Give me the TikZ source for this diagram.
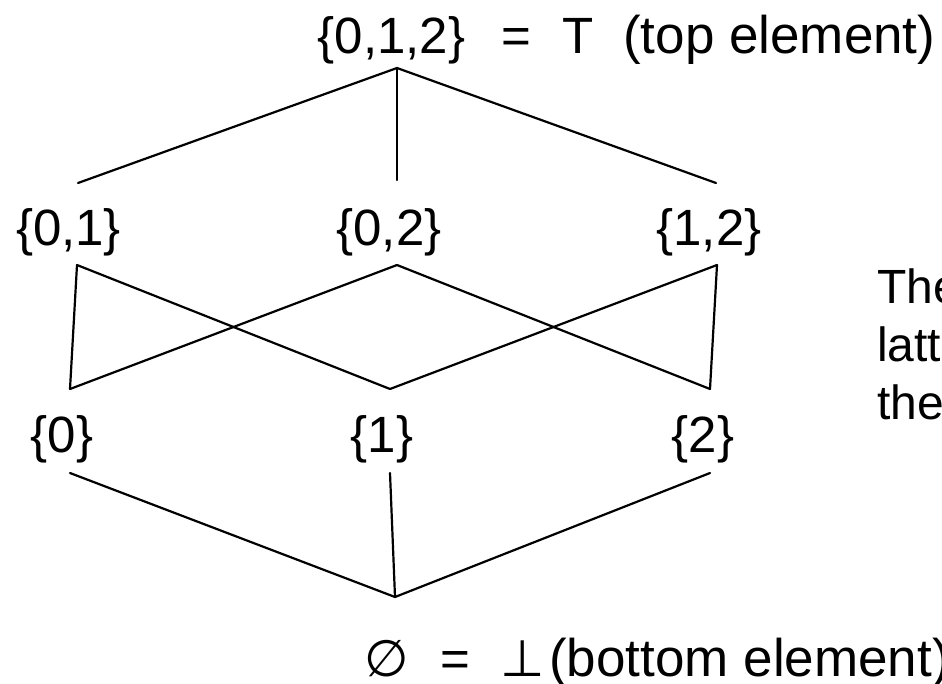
\documentclass[tikz,border=0pt]{standalone}
\usepackage{fontspec}
\setmainfont{Liberation Sans}
\newfontfamily\symf{DejaVu Sans}
\begin{document}
\begin{tikzpicture}[x=1pt,y=-1pt,
  lbl/.style={inner sep=0pt,anchor=base,font=\fontsize{51}{60}\selectfont},
  frag/.style={inner sep=0pt,anchor=base west,font=\fontsize{51}{60}\selectfont},
  word/.style={inner sep=0pt,anchor=base west,font=\fontsize{53}{62}\selectfont},
  note/.style={inner sep=0pt,anchor=base west,font=\fontsize{48}{56}\selectfont},
  edge/.style={line width=2.2pt,line cap=round,line join=round}]
\useasboundingbox (0,0) rectangle (942,683);
\clip (0,0) rectangle (942,683);
% top text
\node[frag] (topset) at (317.5,53) {\{0,1,2\}};
\node[frag] (topeq) at (501.5,53) {=};
\node[frag] (topT) at (562,53) {T};
\node[word] (topname) at (623,53) {(top element)};
% labels
\node[lbl] (s01) at (68.5,245) {\{0,1\}};
\node[lbl] (s02) at (389,245) {\{0,2\}};
\node[lbl] (s12) at (709,245) {\{1,2\}};
\node[lbl] (s0) at (62,452) {\{0\}};
\node[lbl] (s1) at (382,452) {\{1\}};
\node[lbl] (s2) at (703,452) {\{2\}};
% bottom text
\node[frag] (botset) at (364.5,676) {\symf ∅};
\node[frag] (boteq) at (440.5,676) {=};
\node[frag] (botbot) at (500,676) {\symf ⊥};
\node[word] (botname) at (549,676) {(bottom element)};
% side note
\node[note] (n1) at (877,303) {The};
\node[note] (n2) at (877,361) {lattice};
\node[note] (n3) at (877,419) {the};
% connector points
\coordinate (tv) at (397,68);
\coordinate (a1) at (78,183);
\coordinate (a2) at (397,180);
\coordinate (a3) at (716,183);
\coordinate (b1) at (77,265);
\coordinate (b2) at (397,265);
\coordinate (b3) at (717,265);
\coordinate (c1) at (70,389);
\coordinate (c2) at (390,389);
\coordinate (c3) at (710,389);
\coordinate (d1) at (70,473);
\coordinate (d2) at (390,473);
\coordinate (d3) at (710,473);
\coordinate (bv) at (395,597);
% edges
\draw[edge] (a1) -- (tv) -- (a3);
\draw[edge] (tv) -- (a2);
\draw[edge] (b1) -- (c1);
\draw[edge] (b1) -- (c2);
\draw[edge] (b2) -- (c1);
\draw[edge] (b2) -- (c3);
\draw[edge] (b3) -- (c2);
\draw[edge] (b3) -- (c3);
\draw[edge] (d1) -- (bv) -- (d3);
\draw[edge] (d2) -- (bv);
\end{tikzpicture}
\end{document}
